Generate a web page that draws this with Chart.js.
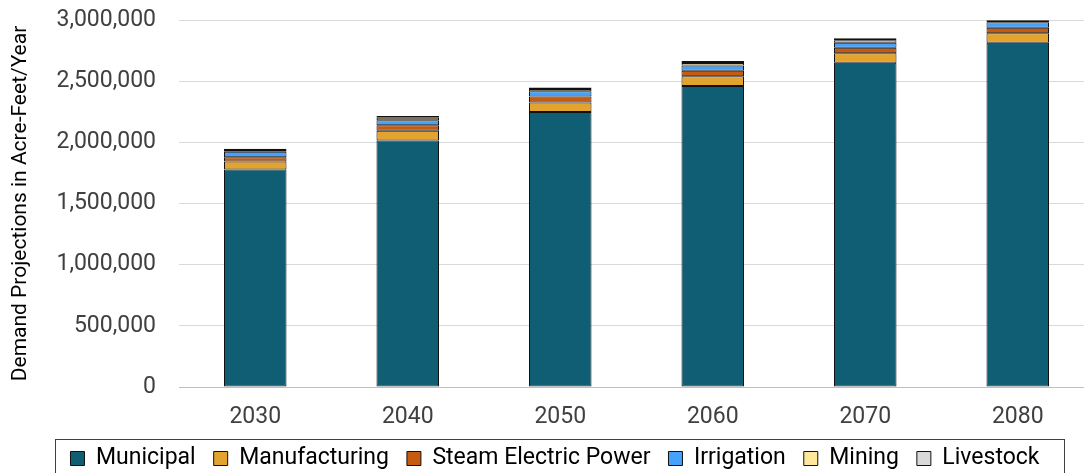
<!DOCTYPE html>
<html>
<head>
<meta charset="utf-8">
<script src="https://cdn.jsdelivr.net/npm/chart.js@4/dist/chart.umd.min.js"></script>
<style>
  html, body { margin: 0; padding: 0; background: #fff; overflow: hidden; }
  #wrap { width: 1094px; height: 480px; }
</style>
</head>
<body>
<div id="wrap"><canvas id="demandChart" width="1094" height="480"></canvas></div>
<script>
// decades
var years = ['2030', '2040', '2050', '2060', '2070', '2080'];

// demand projections, acre-feet per year
var municipal = [1778000, 2014000, 2248000, 2461000, 2650000, 2814000];
var manufacturing = [66000, 80000, 78000, 80000, 78000, 78000];
var steamElectric = [35000, 46000, 49000, 45000, 45000, 45000];
var irrigation = [44000, 41000, 43000, 43000, 41000, 44000];
var mining = [15000, 20000, 18000, 20000, 20000, 10000];
var livestock = [10000, 14000, 12000, 15000, 16000, 6000];

var yTicks = [0, 500000, 1000000, 1500000, 2000000, 2500000, 3000000];

var textColor = '#404040';
var fontName = 'Roboto';
var legendShift = 8;

function ds(label, data, color) {
    return {
        label: label,
        data: data,
        backgroundColor: color,
        borderColor: '#111',
        borderWidth: 1,
        borderSkipped: false,
        barPercentage: 0.41,
        categoryPercentage: 1.0
    };
}

// nudge the legend a bit to the right and draw the frame round it
var legendFrame = {
    id: 'legendFrame',
    afterLayout: function (chart) {
        var lg = chart.legend;
        if (!lg) return;
        lg.left += legendShift;
        lg.right += legendShift;
    },
    afterDraw: function (chart) {
        var lg = chart.legend;
        if (!lg || !lg.legendHitBoxes || !lg.legendHitBoxes.length) return;
        var minX = Infinity, maxX = -Infinity, minY = Infinity;
        lg.legendHitBoxes.forEach(function (h) {
            minX = Math.min(minX, h.left);
            maxX = Math.max(maxX, h.left + h.width);
            minY = Math.min(minY, h.top);
        });
        var c = chart.ctx;
        c.save();
        c.strokeStyle = '#404040';
        c.lineWidth = 1;
        c.strokeRect(Math.round(minX + legendShift - 23) + 0.5, Math.round(minY - 8) + 0.5,
            Math.round(maxX - minX + 40), 80);
        c.restore();
    }
};

var ctx = document.getElementById('demandChart');
var demandChart = new Chart(ctx, {
    type: 'bar',
    data: {
        labels: years,
        datasets: [
            ds('Municipal', municipal, '#0F5E73'),
            ds('Manufacturing', manufacturing, '#E3A42F'),
            ds('Steam Electric Power', steamElectric, '#C55A11'),
            ds('Irrigation', irrigation, '#45A1FB'),
            ds('Mining', mining, '#FFE79C'),
            ds('Livestock', livestock, '#D9D9D9')
        ]
    },
    options: {
        responsive: false,
        animation: false,
        layout: { padding: { top: 20, left: 0, right: 0, bottom: 0 } },
        plugins: {
            legend: {
                position: 'bottom',
                labels: {
                    boxWidth: 14,
                    boxHeight: 14,
                    padding: 18,
                    color: '#000',
                    font: { family: fontName, size: 23 }
                }
            },
            tooltip: { enabled: false }
        },
        scales: {
            x: {
                stacked: true,
                grid: { display: false, drawTicks: false },
                border: { display: true, color: '#bfbfbf' },
                ticks: { padding: 16, color: textColor, font: { family: fontName, size: 23 } },
                afterFit: function (s) { s.height = 42; }
            },
            y: {
                stacked: true,
                min: 0,
                max: 3000000,
                afterBuildTicks: function (s) {
                    s.ticks = yTicks.map(function (v) { return { value: v }; });
                },
                grid: { color: '#d9d9d9', drawTicks: false },
                border: { display: false },
                ticks: {
                    padding: 23,
                    color: textColor,
                    font: { family: fontName, size: 23 },
                    callback: function (v) { return Number(v).toLocaleString('en-US'); }
                },
                title: {
                    display: true,
                    text: 'Demand Projections in Acre-Feet/Year',
                    color: '#000',
                    padding: { top: 8, bottom: 0 },
                    font: { family: fontName, size: 21 }
                },
                afterFit: function (s) {
                    s.width = 179;
                    s.paddingTop = 0;
                    s.paddingBottom = 0;
                }
            }
        }
    },
    plugins: [legendFrame]
});
</script>
</body>
</html>
